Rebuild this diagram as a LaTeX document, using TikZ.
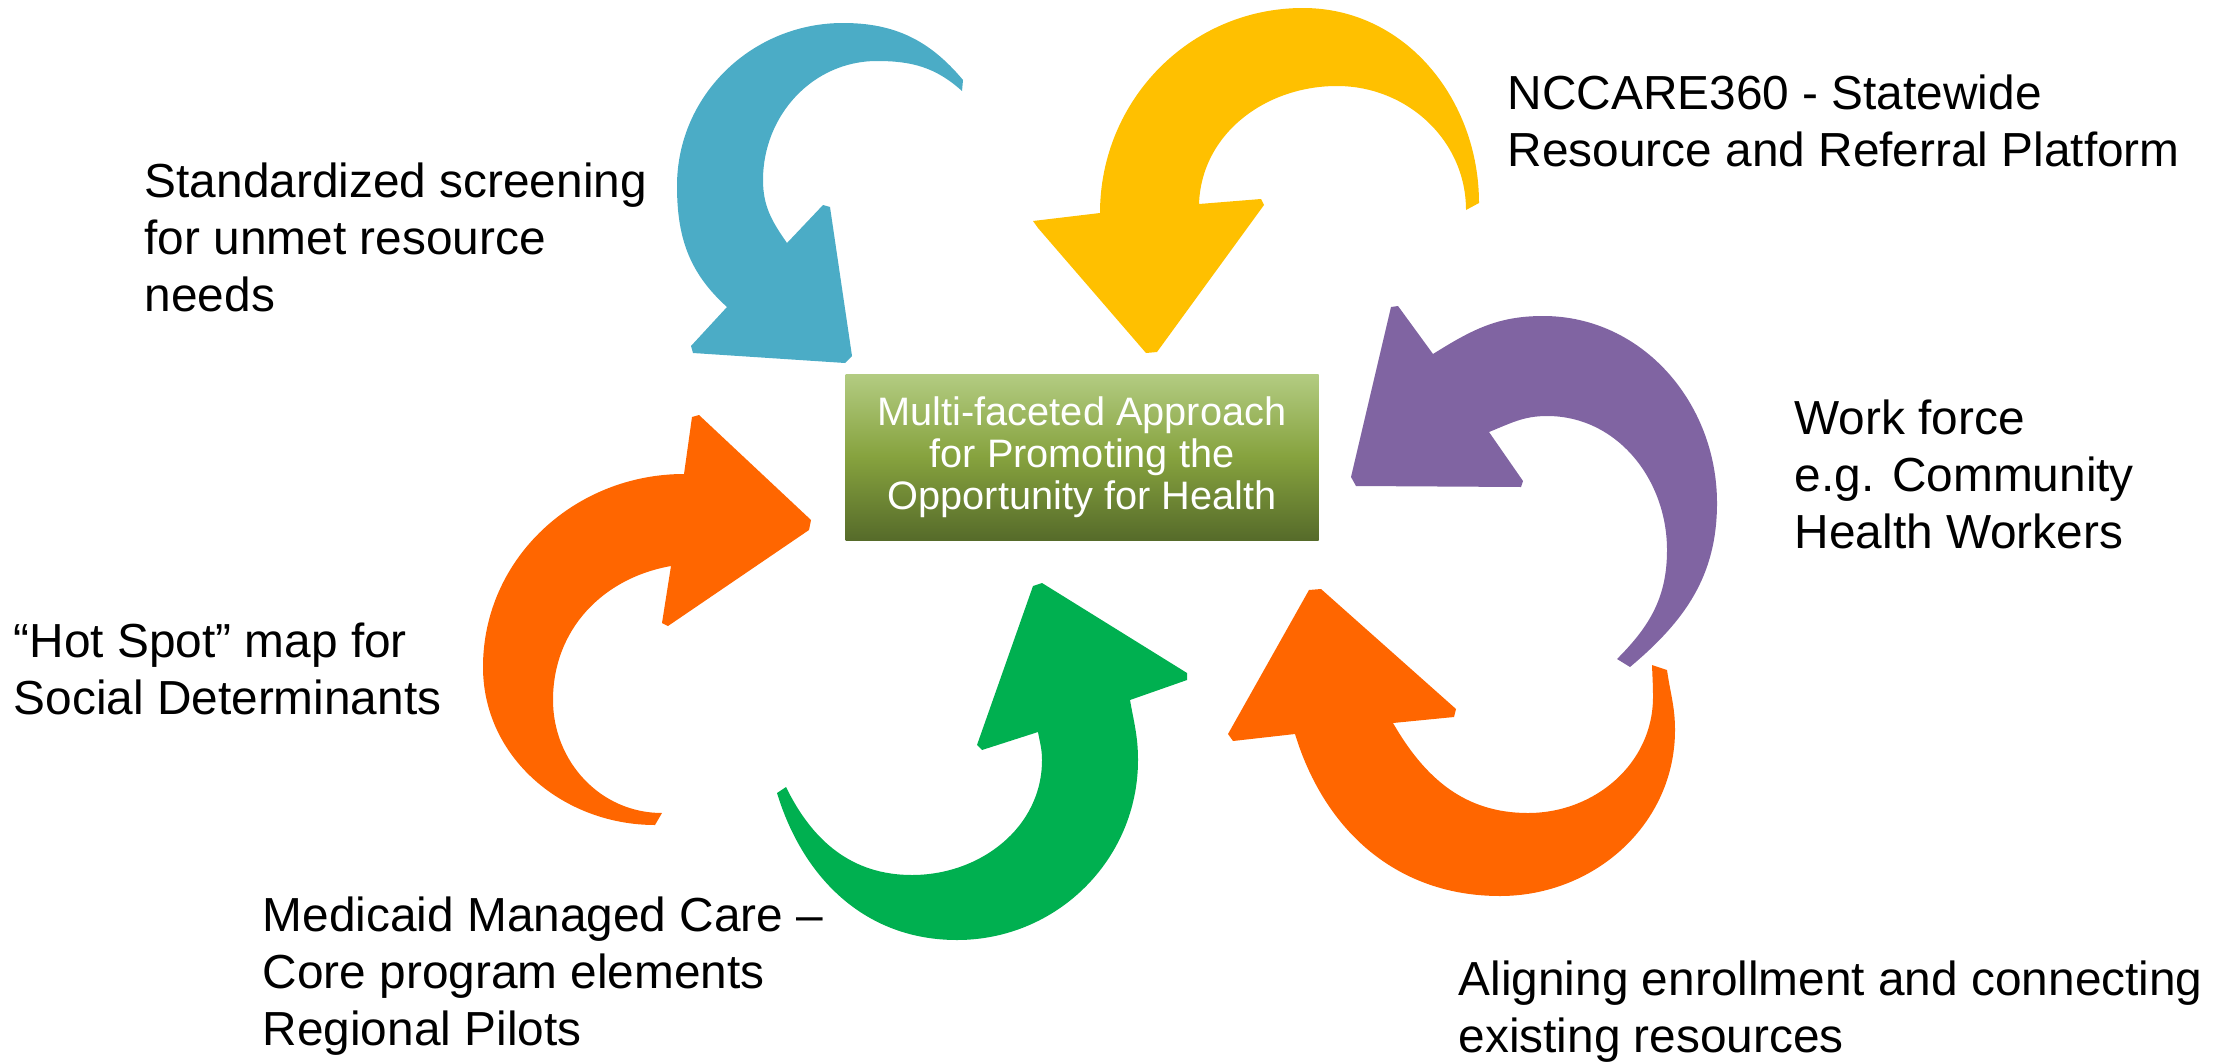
\documentclass[tikz,border=0pt]{standalone}
\usepackage{fontspec}
\setmainfont{Liberation Sans}
\usepackage{xcolor}
\usepackage{tikz}

\definecolor{swirlblue}{HTML}{4BACC6}
\definecolor{swirlyellow}{HTML}{FFC000}
\definecolor{swirlpurple}{HTML}{8064A2}
\definecolor{swirlorange}{HTML}{FF6600}
\definecolor{swirlgreen}{HTML}{00B050}
\definecolor{hubtop}{HTML}{B3CC82}
\definecolor{hubmid}{HTML}{86A23E}
\definecolor{hubbot}{HTML}{566B2A}

\begin{document}
\begin{tikzpicture}[x=0.1mm, y=0.1mm]
            \tikzstyle{blurb} = [anchor=base west, align=left, inner sep=0, font=\fontsize{13.6}{16.2}\selectfont]
            \tikzstyle{hub} = [minimum width=47.3mm, minimum height=16.6mm, inner sep=0, align=center, text=white, top color=hubtop, bottom color=hubbot, middle color=hubmid, font=\fontsize{11.3}{12}\selectfont]

            \useasboundingbox (0,0) rectangle (2238,1063);

            \fill [swirlblue] (963,983) to[out=130,in=0] (843,1040) to[out=180,in=90] (677,877) to[out=270,in=138] (727,756)
                -- (691,717) -- (693,710) -- (845,700) -- (852,707) -- (830,856) -- (823,858) -- (787,820)
                to[out=125,in=270] (763,883) to[out=90,in=180] (877,1002) to[out=0,in=138] (962,972) -- cycle;

            \fill [swirlyellow] (1479,860) to[out=90,in=0] (1303,1055) to[out=180,in=90] (1100,850)
                -- (1033,842) -- (1038,835) -- (1146,710) -- (1157,711) -- (1264,858) -- (1261,864) -- (1199,859)
                to[out=88,in=180] (1337,977) to[out=0,in=90] (1466,853) -- cycle;

            \fill [swirlpurple] (1630,396) to[out=40,in=270] (1717,560) to[out=90,in=0] (1543,747) to[out=180,in=32] (1433,709)
                -- (1398,757) -- (1391,756) -- (1351,586) -- (1356,577) -- (1521,576) -- (1523,582) -- (1489,631)
                to[out=22,in=180] (1547,647) to[out=0,in=90] (1667,513) to[out=270,in=45] (1617,404) -- cycle;

            \fill [swirlorange] (1667,393) to[out=-82,in=90] (1675,333) to[out=270,in=0] (1500,167) to[out=180,in=-73] (1295,329)
                -- (1233,322) -- (1228,329) -- (1309,473) -- (1321,474) -- (1456,354) -- (1454,346) -- (1393,340)
                to[out=-60,in=180] (1528,250) to[out=0,in=270] (1653,366) to[out=90,in=-88] (1652,398) -- cycle;

            \fill [swirlgreen] (777,270) to[out=-73,in=180] (957,123) to[out=0,in=270] (1138,303) to[out=90,in=-80] (1130,363)
                -- (1187,383) -- (1187,390) -- (1042,480) -- (1033,477) -- (977,318) -- (982,313) -- (1038,331)
                to[out=-80,in=90] (1042,303) to[out=270,in=0] (912,188) to[out=180,in=-64] (786,276) -- cycle;

            \fill [swirlorange] (655,238) to[out=180,in=270] (483,396) to[out=90,in=180] (684,589)
                -- (692,646) -- (699,648) -- (811,543) -- (809,533) -- (668,437) -- (662,440) -- (671,497)
                to[out=190,in=90] (553,363) to[out=270,in=180] (662,250) -- cycle;

            \node [hub] (hub) at (1082,606) {Multi-faceted Approach\\for Promoting the\\Opportunity for Health};

            \node [blurb] (screening) at (144,752) {Standardized screening\\for unmet resource\\needs};
            \node [blurb] (nccare) at (1507,897) {NCCARE360 - Statewide\\Resource and Referral Platform};
            \node [blurb] (workforce) at (1794,515) {Work force\\e.g. Community\\Health Workers};
            \node [blurb] (aligning) at (1458,11) {Aligning enrollment and connecting\\existing resources};
            \node [blurb] (medicaid) at (262,18) {Medicaid Managed Care –\\Core program elements\\Regional Pilots};
            \node [blurb] (hotspot) at (13,349) {“Hot Spot” map for\\Social Determinants};
        \end{tikzpicture}
\end{document}
